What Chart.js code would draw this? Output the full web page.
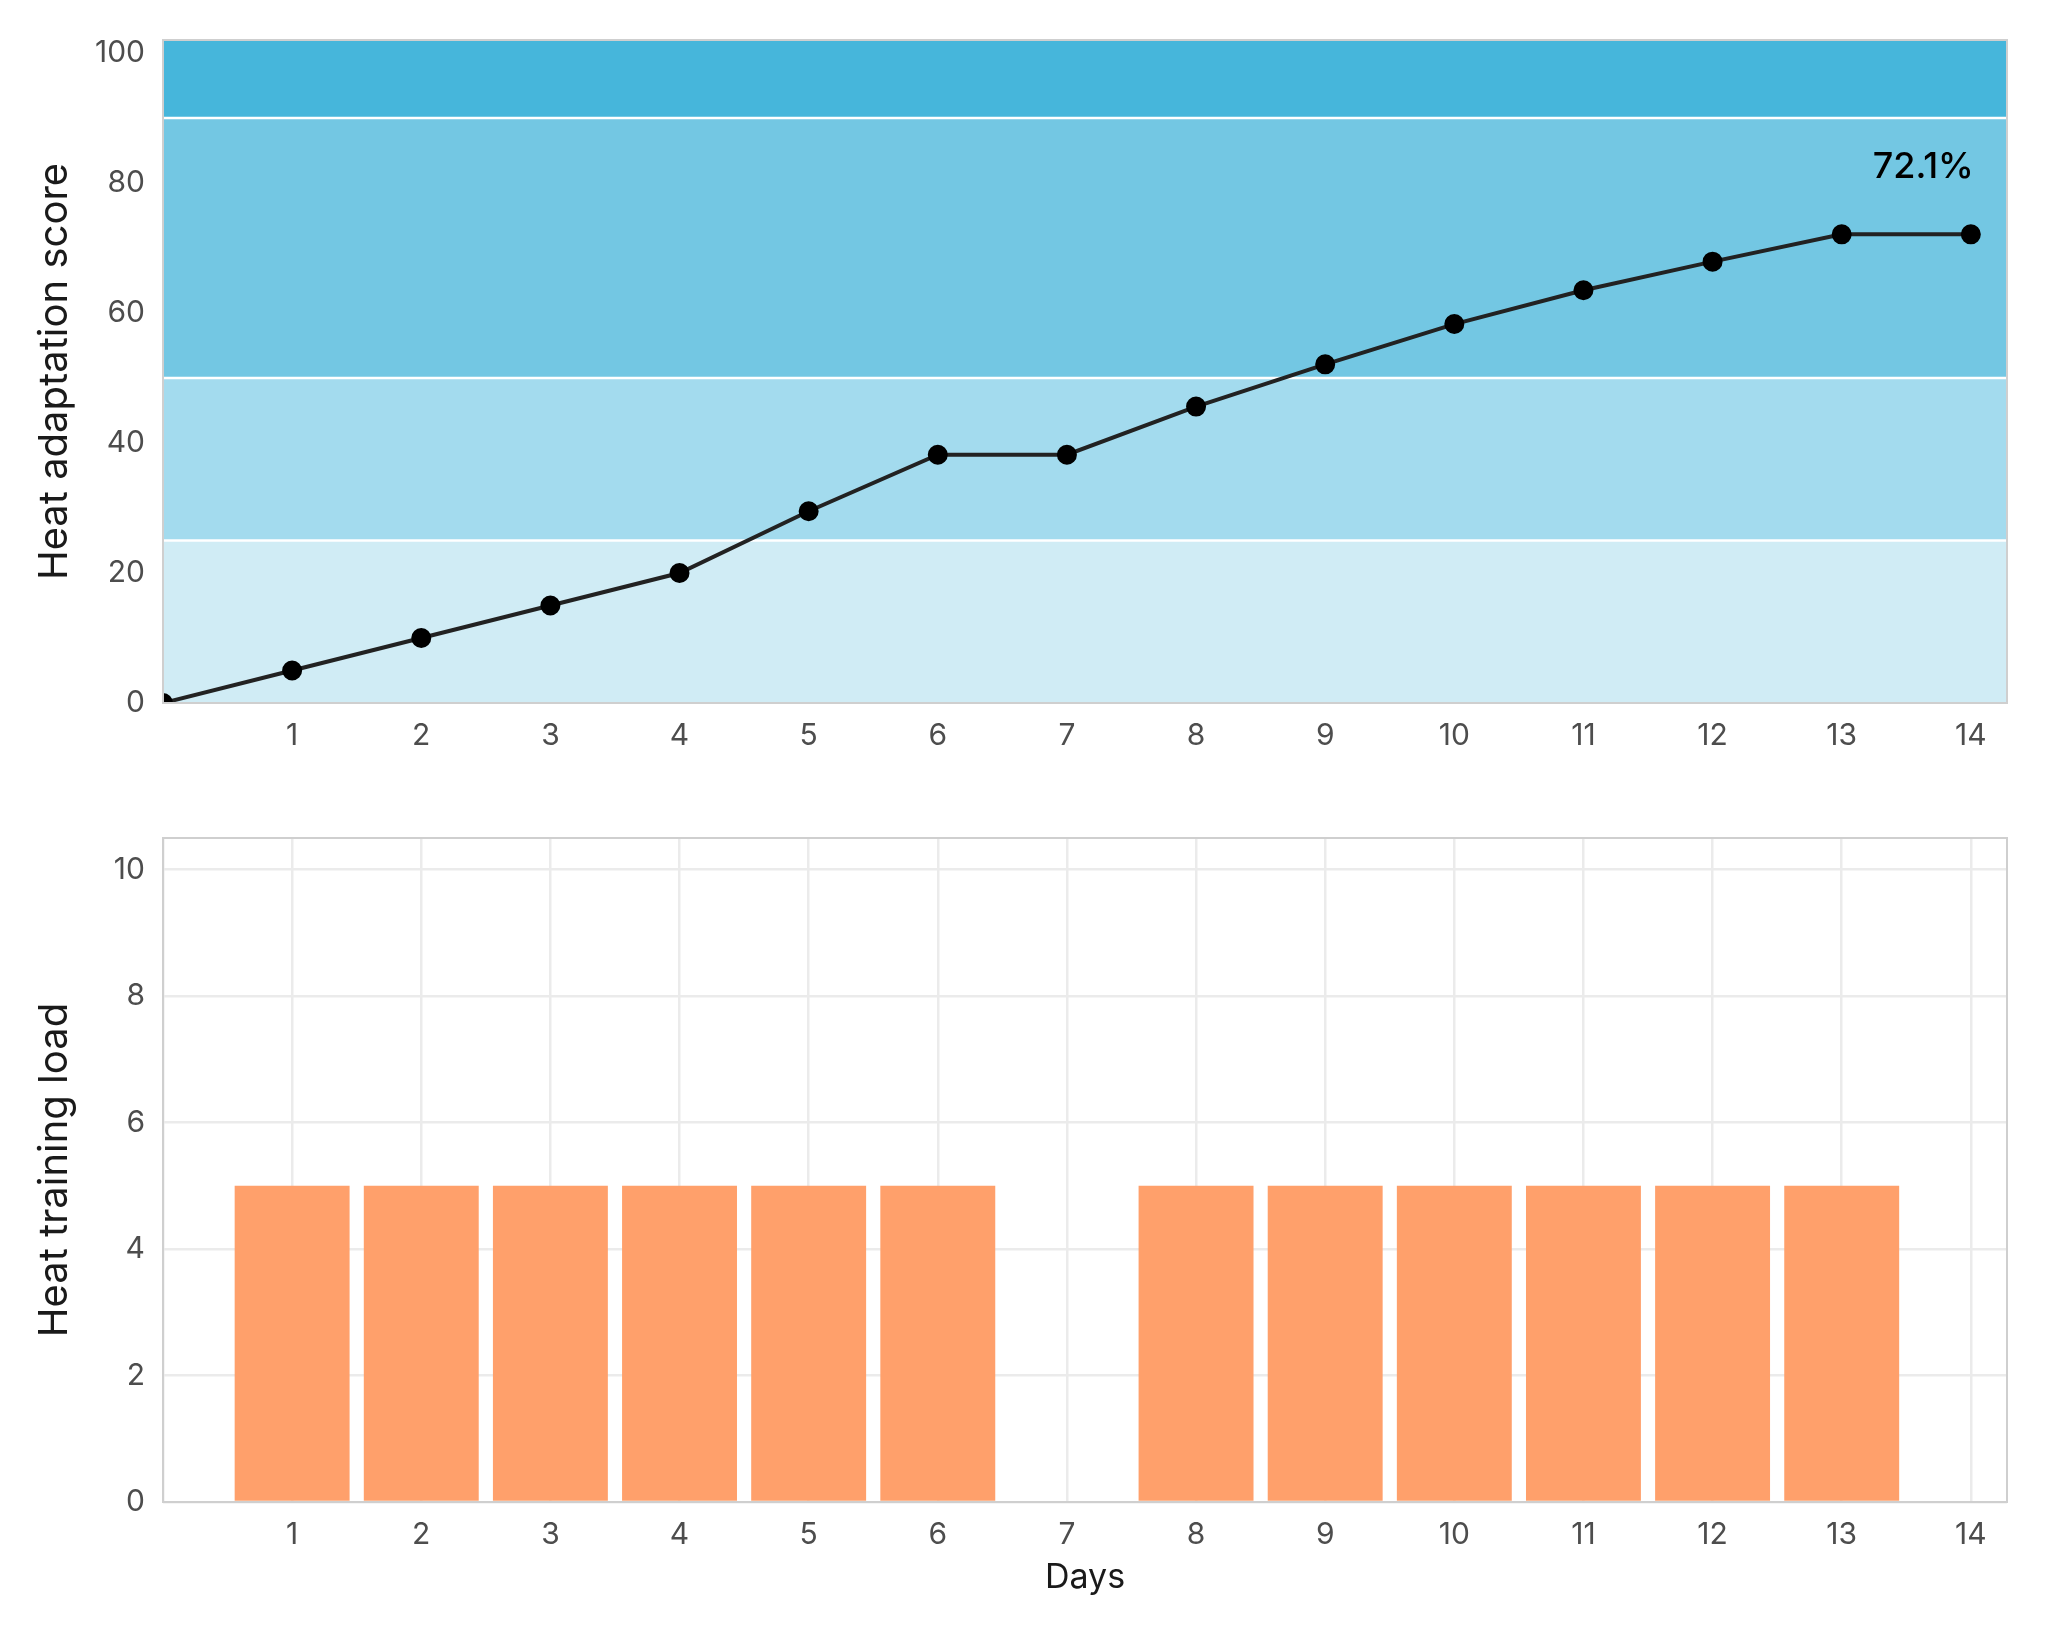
<!DOCTYPE html>
<html lang="en">
<head>
    <meta charset="UTF-8">
    <title>Heat adaptation</title>
    <script src="https://cdn.jsdelivr.net/npm/chart.js"></script>
    <style>
        body { margin: 0; background: #fff; }
        #wrap { position: relative; width: 2048px; height: 1638px; }
        .box { position: absolute; left: 0; width: 2048px; }
        #topBox { top: 0; height: 780px; }
        #bottomBox { top: 780px; height: 858px; }
    </style>
</head>
<body>
<div id="wrap">
    <div class="box" id="topBox"><canvas id="scoreChart"></canvas></div>
    <div class="box" id="bottomBox"><canvas id="loadChart"></canvas></div>
</div>
<script>
    // data
    const days = [0, 1, 2, 3, 4, 5, 6, 7, 8, 9, 10, 11, 12, 13, 14];
    const scores = [0, 5, 10, 15, 20, 29.5, 38.2, 38.2, 45.6, 52.1, 58.3, 63.5, 67.9, 72.1, 72.1];
    const loadDays = [1, 2, 3, 4, 5, 6, 7, 8, 9, 10, 11, 12, 13, 14];
    const loads = [5, 5, 5, 5, 5, 5, 0, 5, 5, 5, 5, 5, 5, 0];
    const bandEdges = [0, 25, 50, 90, 102];
    const bandColors = ['#d0ecf5', '#a3dbee', '#73c7e3', '#46b6db'];
    const lastLabel = '72.1%';
    const lastLabelPos = [14, 82.5];

    Chart.defaults.font.family = 'Inter, "Noto Sans", sans-serif';
    Chart.defaults.animation = false;

    const tickColor = '#4d4d4d';
    const titleColor = '#1a1a1a';

    // coloured zones behind the line
    const bandPlugin = {
        id: 'bands',
        beforeDatasetsDraw(chart) {
            const { ctx, chartArea: a, scales: { y } } = chart;
            ctx.save();
            for (let i = 0; i < bandColors.length; i++) {
                const y0 = y.getPixelForValue(bandEdges[i]);
                const y1 = y.getPixelForValue(bandEdges[i + 1]);
                ctx.fillStyle = bandColors[i];
                ctx.fillRect(a.left, y1, a.right - a.left, y0 - y1);
            }
            ctx.strokeStyle = '#ffffff';
            ctx.lineWidth = 2.5;
            for (let i = 1; i < bandEdges.length - 1; i++) {
                const py = y.getPixelForValue(bandEdges[i]);
                ctx.beginPath();
                ctx.moveTo(a.left, py);
                ctx.lineTo(a.right, py);
                ctx.stroke();
            }
            ctx.restore();
        }
    };

    const framePlugin = {
        id: 'frame',
        afterDraw(chart) {
            const { ctx, chartArea: a } = chart;
            ctx.save();
            ctx.strokeStyle = '#cfcfcf';
            ctx.lineWidth = 2;
            ctx.strokeRect(a.left, a.top, a.right - a.left, a.bottom - a.top);
            ctx.restore();
        }
    };

    const lastLabelPlugin = {
        id: 'lastLabel',
        afterDatasetsDraw(chart) {
            const { ctx, scales: { x, y } } = chart;
            ctx.save();
            ctx.fillStyle = '#000';
            ctx.font = '500 36px Inter, "Noto Sans", sans-serif';
            ctx.textAlign = 'right';
            ctx.textBaseline = 'middle';
            ctx.fillText(lastLabel, x.getPixelForValue(lastLabelPos[0]) + 3, y.getPixelForValue(lastLabelPos[1]));
            ctx.restore();
        }
    };

    const xTicks = {
        stepSize: 1,
        includeBounds: false,
        autoSkip: false,
        maxRotation: 0,
        padding: 15,
        color: tickColor,
        font: { size: 30 },
        callback: v => v === 0 ? '' : v
    };

    new Chart(document.getElementById('scoreChart'), {
        type: 'line',
        data: {
            datasets: [{
                data: days.map((d, i) => ({ x: d, y: scores[i] })),
                borderColor: '#222222',
                borderWidth: 4,
                pointBackgroundColor: '#000',
                pointBorderColor: '#000',
                pointRadius: 8,
                tension: 0
            }]
        },
        options: {
            responsive: true,
            maintainAspectRatio: false,
            layout: { padding: { top: 40, right: 41, left: 0, bottom: 0 } },
            plugins: { legend: { display: false }, tooltip: { enabled: false } },
            scales: {
                x: {
                    type: 'linear', min: 0, max: 14.28,
                    grid: { display: false, drawTicks: false },
                    border: { display: false },
                    ticks: xTicks,
                    afterFit(s) { s.height = 77; }
                },
                y: {
                    min: 0, max: 102,
                    grid: { display: false, drawTicks: false },
                    border: { display: false },
                    ticks: { stepSize: 20, includeBounds: false, padding: 18, color: tickColor, font: { size: 30 } },
                    title: { display: true, text: 'Heat adaptation score', color: titleColor, font: { size: 40 }, padding: { top: 31, bottom: 0 } },
                    afterFit(s) { s.width = 163; }
                }
            }
        },
        plugins: [bandPlugin, lastLabelPlugin, framePlugin]
    });

    new Chart(document.getElementById('loadChart'), {
        type: 'bar',
        data: {
            datasets: [{
                data: loadDays.map((d, i) => ({ x: d, y: loads[i] })),
                backgroundColor: '#ffa06b',
                borderWidth: 0,
                categoryPercentage: 1,
                barPercentage: 0.89
            }]
        },
        options: {
            responsive: true,
            maintainAspectRatio: false,
            layout: { padding: { top: 58, right: 41, left: 0, bottom: 0 } },
            plugins: { legend: { display: false }, tooltip: { enabled: false } },
            scales: {
                x: {
                    type: 'linear', min: 0, max: 14.28, offset: false,
                    grid: { color: '#ebebeb', lineWidth: 2.5, drawTicks: false, offset: false },
                    border: { display: false },
                    ticks: xTicks,
                    title: { display: true, text: 'Days', color: titleColor, font: { size: 34 }, padding: { top: 0, bottom: 40 } },
                    afterFit(s) { s.height = 136; }
                },
                y: {
                    min: 0, max: 10.5,
                    grid: { color: '#ebebeb', lineWidth: 2.5, drawTicks: false },
                    border: { display: false },
                    ticks: { stepSize: 2, includeBounds: false, padding: 18, color: tickColor, font: { size: 30 } },
                    title: { display: true, text: 'Heat training load', color: titleColor, font: { size: 40 }, padding: { top: 31, bottom: 0 } },
                    afterFit(s) { s.width = 163; }
                }
            }
        },
        plugins: [framePlugin]
    });
</script>
</body>
</html>
